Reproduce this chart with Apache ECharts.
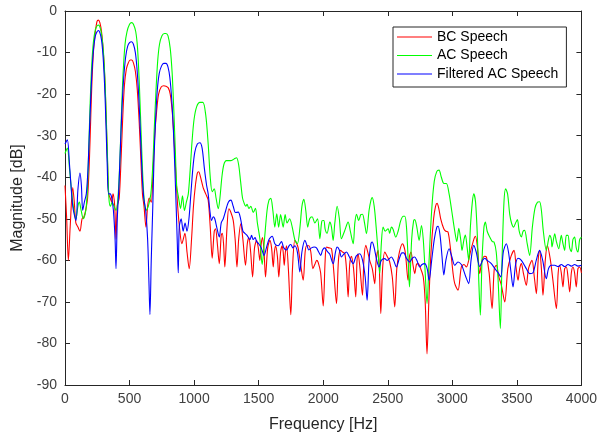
<!DOCTYPE html>
<html>
<head>
<meta charset="utf-8">
<script src="https://cdn.jsdelivr.net/npm/echarts@6/dist/echarts.min.js"></script>
<style>
	html, body {margin: 0;padding: 0;background: #fff}
	#main {width: 600px;height: 438px}
</style>
</head>
<body>
<div id="main"></div>
<script>
	// [frequency Hz, magnitude dB]
	var bcSpeech = [
		[0,-42],[13,-50],[26,-60],[40,-52],[60,-42.5],[72,-46],[84,-51],[100,-52],[116,-53],[132,-50],[147,-49.5],[160,-48],[175,-45],
		[190,-35],[200,-25],[210,-16],[222,-9],[235,-5],[248,-2.5],[258,-2.2],[270,-2.8],[283,-5],[295,-9],[308,-16],[318,-25],[328,-35],[338,-44],
		[350,-45],[362,-46],[372,-44],[385,-47],[395,-55],[405,-47],[420,-45],[435,-35],[448,-25],[460,-18],[475,-14],[490,-12.5],[505,-11.8],
		[518,-11.8],[530,-12.5],[545,-14.5],[560,-19],[575,-27],[588,-36],[600,-44],[612,-47],[627,-52],[640,-47],[652,-45],[668,-46],[680,-40],
		[695,-30],[710,-24],[725,-20],[745,-18.3],[765,-18],[782,-18.1],[800,-18.5],[815,-20],[830,-24],[845,-31],[860,-40],[875,-48],[890,-53],
		[905,-56],[929,-53.5],[945,-58],[962,-62],[980,-55],[995,-47],[1010,-42],[1025,-39],[1035,-38.7],[1050,-40],[1070,-42.5],[1090,-44],
		[1109,-45.5],[1125,-52],[1140,-59.5],[1156,-53],[1166,-52.4],[1180,-56],[1195,-60.8],[1210,-54],[1218,-53.5],[1228,-56],[1238,-61.6],
		[1255,-52],[1269,-47.6],[1285,-48.5],[1303,-50.4],[1318,-55],[1332,-61.6],[1345,-55],[1362,-51.2],[1378,-55],[1398,-61.2],[1412,-56],
		[1424,-54.5],[1438,-58],[1453,-64],[1468,-57],[1484,-55.2],[1497,-57],[1509,-60],[1520,-56],[1530,-54.5],[1542,-58],[1553,-64],[1570,-57],
		[1587,-55.2],[1600,-57],[1613,-61.6],[1622,-58],[1631,-56.5],[1645,-59],[1656,-64],[1670,-58],[1682,-56.5],[1690,-58],[1698,-61.2],
		[1707,-58],[1716,-56.5],[1730,-62],[1749,-73.1],[1762,-62],[1780,-55.2],[1795,-56],[1806,-57],[1825,-61],[1845,-64.8],[1860,-58],
		[1871,-56.5],[1889,-56.5],[1904,-58],[1920,-62],[1935,-61],[1950,-60],[1961,-60.5],[1980,-63],[2000,-71],[2015,-60],[2025,-56.8],
		[2045,-57],[2064,-57.2],[2080,-62],[2103,-70.4],[2118,-60],[2134,-57.6],[2150,-58],[2167,-58.4],[2180,-62],[2193,-68.8],[2205,-61],
		[2219,-59],[2235,-62],[2252,-68.8],[2262,-60],[2270,-58.4],[2285,-62],[2304,-68.4],[2315,-60],[2330,-56.4],[2345,-58],[2360,-60],
		[2380,-62],[2399,-65.6],[2410,-60],[2425,-57.6],[2435,-62],[2446,-72.8],[2460,-62],[2477,-58],[2495,-59],[2515,-60.4],[2535,-64],
		[2554,-71.2],[2570,-62],[2590,-58],[2614,-56],[2635,-58],[2657,-64.8],[2668,-59],[2680,-58],[2695,-61],[2709,-63.2],[2722,-61],
		[2735,-60.8],[2755,-62],[2775,-64],[2790,-70],[2804,-82.5],[2818,-70],[2835,-58],[2855,-50],[2870,-47],[2882,-46.3],[2895,-47.5],
		[2910,-50],[2934,-52.4],[2950,-53],[2967,-53.2],[2985,-57],[3006,-63.2],[3019,-65.6],[3044,-67.2],[3070,-61.6],[3090,-61],[3109,-61.6],
		[3140,-58],[3166,-55],[3179,-54.2],[3195,-57],[3212,-63.2],[3230,-60],[3251,-59],[3264,-59.2],[3285,-63],[3308,-71.6],[3325,-62],
		[3341,-61.2],[3360,-64],[3380,-66],[3406,-70],[3430,-62],[3455,-59],[3478,-57.6],[3495,-62],[3509,-64.8],[3522,-62],[3535,-60.8],
		[3550,-63],[3573,-66],[3590,-62],[3617,-60],[3635,-64],[3651,-68],[3665,-60],[3676,-57.6],[3690,-62],[3702,-68.4],[3720,-60],
		[3736,-56.4],[3760,-60],[3780,-65],[3806,-71.6],[3820,-63],[3831,-61.2],[3844,-63],[3857,-66.4],[3870,-62],[3883,-61.6],[3896,-64],
		[3909,-67.6],[3922,-63],[3934,-61.6],[3947,-63],[3960,-66.4],[3973,-62],[3986,-61.6],[4000,-63]
	];

	var acSpeech = [
		[0,-34.3],[18,-33],[35,-38],[60,-46],[85,-50],[100,-47],[111,-46],[125,-48],[142,-50],[155,-49],[165,-47],[175,-42],[185,-32],
		[195,-22],[207,-13],[220,-7.5],[235,-4.5],[250,-3.5],[260,-3.4],[272,-4],[285,-6],[298,-10],[310,-17],[320,-26],[330,-36],[340,-45],
		[352,-47],[365,-46],[380,-47],[395,-48],[410,-45],[425,-36],[438,-24],[450,-15],[465,-8],[480,-5],[500,-3.2],[516,-2.8],[530,-3.2],
		[548,-5],[562,-9],[575,-17],[588,-28],[600,-38],[612,-45],[627,-48],[645,-47],[665,-44],[680,-37],[692,-28],[705,-19],[718,-12],
		[732,-8],[750,-6],[770,-5.4],[782,-5.4],[798,-6],[815,-9],[830,-15],[843,-24],[855,-34],[865,-42],[880,-45],[895,-47.5],[910,-44.5],
		[925,-48],[940,-46],[955,-44],[970,-38],[985,-31],[1000,-26],[1020,-23],[1045,-22],[1068,-22],[1090,-25],[1109,-32],[1125,-40],
		[1140,-43.5],[1156,-42.8],[1170,-45],[1187,-47.6],[1200,-45],[1215,-40],[1230,-37],[1250,-36],[1264,-36],[1285,-36],[1300,-35.8],
		[1315,-35.5],[1329,-35.3],[1345,-37],[1360,-41],[1375,-45],[1388,-46.3],[1400,-47],[1410,-46.5],[1424,-47.5],[1440,-47],[1458,-48.5],
		[1475,-47.5],[1490,-51],[1510,-55],[1527,-61],[1545,-55],[1565,-48],[1580,-45.5],[1594,-45.1],[1610,-48],[1625,-52],[1640,-48.8],
		[1655,-52],[1670,-49],[1690,-52],[1705,-49],[1720,-51],[1740,-50],[1760,-52],[1780,-55],[1800,-56],[1820,-52],[1835,-47],[1850,-45.3],
		[1865,-48],[1880,-52],[1895,-50],[1914,-49.5],[1935,-51],[1956,-50],[1974,-54.8],[1990,-50.5],[2005,-50.4],[2015,-52.5],[2030,-53.5],
		[2051,-50.8],[2064,-52],[2077,-55.2],[2090,-51],[2108,-47],[2125,-50],[2141,-54.8],[2165,-53],[2193,-50.8],[2210,-53],[2232,-56],
		[2245,-51],[2258,-48.9],[2275,-50.4],[2291,-49],[2304,-48.9],[2320,-51],[2335,-53.6],[2355,-48],[2370,-45.5],[2379,-44.9],[2395,-47],
		[2410,-52],[2425,-58],[2438,-63.2],[2450,-56],[2464,-52],[2480,-53],[2503,-52.4],[2515,-53.5],[2528,-52],[2541,-52.5],[2562,-54.4],
		[2580,-53],[2600,-50.5],[2620,-49.4],[2632,-49.4],[2645,-52],[2658,-60],[2668,-66.4],[2685,-55],[2700,-50.5],[2709,-50.2],[2725,-52],
		[2743,-55.2],[2761,-51.6],[2775,-55],[2790,-63],[2804,-70.4],[2820,-60],[2840,-48],[2860,-41],[2880,-38.6],[2897,-38.3],[2915,-40],
		[2935,-41.5],[2954,-41.5],[2975,-44],[2995,-48],[3019,-53],[3035,-55.5],[3050,-52.3],[3065,-55],[3075,-57.6],[3090,-55],[3101,-53.9],
		[3115,-57],[3127,-60],[3140,-52],[3155,-46],[3166,-44],[3180,-46],[3195,-55],[3205,-65],[3217,-73.2],[3230,-60],[3245,-52],[3256,-50.8],
		[3270,-53],[3290,-54.4],[3310,-55.5],[3323,-55.6],[3340,-58],[3355,-65],[3372,-76.4],[3385,-60],[3400,-46],[3413,-42.8],[3428,-44],
		[3445,-49],[3460,-51.2],[3475,-52],[3490,-51],[3504,-50.2],[3518,-53],[3535,-54.4],[3548,-53],[3560,-52.8],[3580,-56],[3599,-58.8],
		[3620,-52],[3640,-47.5],[3660,-46],[3676,-45.9],[3690,-48],[3705,-53],[3728,-57.6],[3745,-55],[3754,-54],[3767,-55],[3772,-56.8],
		[3793,-53.6],[3806,-55.5],[3824,-57.2],[3844,-54],[3857,-56],[3870,-57.6],[3883,-54],[3896,-54],[3909,-57],[3922,-57.9],[3934,-55],
		[3947,-54.4],[3960,-57],[3973,-58],[3986,-55],[4000,-54.4]
	];

	var filteredAcSpeech = [
		[0,-32],[18,-31],[35,-37],[60,-47],[85,-50.4],[100,-43],[116,-39],[127,-42],[137,-48],[150,-46],[165,-44],[178,-38],[188,-30],
		[198,-22],[208,-15],[220,-9.5],[235,-6],[248,-5],[258,-4.7],[270,-5.2],[283,-7],[295,-11],[307,-18],[317,-27],[327,-37],[337,-44],
		[350,-44],[362,-45],[375,-48],[388,-55],[395,-62],[405,-50],[418,-42],[430,-32],[442,-23],[455,-16],[470,-11],[485,-8.5],[500,-7.6],
		[516,-7.4],[530,-8],[545,-10],[558,-14],[572,-21],[585,-30],[597,-39],[610,-45],[625,-48],[640,-55],[650,-65],[658,-73],[668,-60],
		[680,-47],[690,-35],[702,-26],[715,-19],[730,-15],[748,-13.2],[765,-12.6],[782,-12.6],[798,-13.5],[812,-16],[826,-21],[840,-29],
		[852,-39],[862,-48],[870,-56],[877,-63],[885,-52],[900,-50],[915,-53],[930,-51],[945,-53],[960,-50],[975,-44],[990,-38],[1005,-34],
		[1025,-32],[1045,-31.7],[1062,-33],[1080,-38],[1097,-42],[1109,-44],[1122,-48],[1135,-50.4],[1148,-49.5],[1160,-50],[1175,-52],
		[1195,-54.4],[1210,-51],[1226,-50],[1245,-48],[1265,-46],[1285,-45.5],[1303,-47],[1320,-48.5],[1342,-48.4],[1360,-50],[1378,-53],
		[1393,-53.5],[1410,-54],[1432,-55],[1445,-54],[1458,-55],[1472,-54.5],[1484,-55.5],[1500,-56],[1520,-57],[1542,-58.8],[1560,-57],
		[1580,-55],[1605,-54.2],[1625,-56],[1651,-56.5],[1665,-56],[1677,-55.5],[1695,-57],[1716,-57.5],[1735,-56.5],[1749,-56.2],[1765,-57],
		[1780,-56.5],[1800,-58],[1819,-62.8],[1835,-58],[1858,-55.2],[1875,-56.5],[1889,-57.5],[1909,-57],[1930,-56.8],[1948,-57],[1965,-58],
		[1981,-58.8],[1995,-57.5],[2012,-57],[2030,-57.8],[2050,-58.5],[2077,-60.8],[2095,-58],[2108,-56.8],[2125,-57.5],[2141,-59.2],
		[2160,-58.5],[2180,-58],[2200,-59],[2232,-60.8],[2255,-59],[2283,-58.4],[2305,-60],[2325,-64],[2340,-69.6],[2355,-60],[2370,-56],
		[2379,-55.6],[2395,-57],[2415,-60],[2433,-61.6],[2450,-60],[2477,-59.6],[2495,-60],[2528,-59.2],[2545,-60],[2567,-61.6],[2590,-59.5],
		[2610,-58.2],[2624,-58.2],[2645,-59.5],[2670,-60.4],[2690,-59.5],[2709,-59.2],[2725,-60],[2748,-61.6],[2765,-61],[2786,-60.8],
		[2805,-62],[2820,-64.8],[2840,-60],[2860,-55],[2880,-52],[2890,-51.8],[2905,-54],[2920,-59],[2934,-63.5],[2950,-60],[2975,-57.2],
		[2995,-59],[3019,-61.2],[3044,-60.4],[3070,-61],[3083,-62],[3105,-64],[3127,-65.6],[3145,-60],[3166,-56.4],[3185,-58],[3212,-61.5],
		[3235,-60],[3251,-59.5],[3270,-60],[3302,-60.8],[3330,-62],[3355,-63],[3375,-64],[3395,-58],[3418,-56],[3435,-58],[3455,-63],
		[3470,-66.4],[3490,-61],[3509,-59.5],[3535,-60],[3573,-62],[3599,-63.2],[3625,-63],[3650,-60],[3676,-57.6],[3700,-60],[3728,-64.4],
		[3745,-62],[3767,-61.2],[3793,-61.2],[3820,-61.5],[3844,-61],[3870,-61.5],[3896,-61],[3922,-61.4],[3947,-61],[3973,-61.4],[4000,-61.2]
	];

	var seriesNames = ['BC Speech', 'AC Speech', 'Filtered AC Speech'];
	var seriesColors = ['#ff0000', '#00ff00', '#0000ff'];

	var fontFamily = '"Liberation Sans", Arial, sans-serif';
	var axisColor = '#262626';

	function boxAxis(extra) {
		var axis = {
			type: 'value',
			axisLine: {show: true, onZero: false, lineStyle: {color: axisColor, width: 1}},
			axisTick: {show: true, inside: true, length: 5, lineStyle: {color: axisColor}},
			splitLine: {show: false},
			axisLabel: {show: false}
		};
		return Object.assign(axis, extra);
	}

	var myChart = echarts.init(document.getElementById('main'), null, {renderer: 'canvas'});
	var option = {
		animation: false,
		backgroundColor: '#fff',
		textStyle: {fontFamily: fontFamily},
		grid: {left: 65, right: 18, top: 11, bottom: 53},
		legend: {
			data: seriesNames,
			orient: 'vertical',
			left: 393,
			top: 27,
			padding: [2, 8, 5, 4],
			itemGap: 2.5,
			itemWidth: 35,
			itemHeight: 1.2,
			icon: 'rect',
			borderColor: axisColor,
			borderWidth: 1,
			borderRadius: 0,
			backgroundColor: '#fff',
			textStyle: {fontSize: 14, lineHeight: 16, color: '#000', fontFamily: fontFamily}
		},
		xAxis: [
			boxAxis({
				min: 0, max: 4000, interval: 500,
				name: 'Frequency [Hz]',
				nameLocation: 'middle',
				nameGap: 32,
				nameTextStyle: {fontSize: 16, color: '#262626', fontFamily: fontFamily},
				axisLabel: {
					show: true, fontSize: 14, color: '#404040', margin: 7, fontFamily: fontFamily,
					formatter: function (v) { return String(v); }
				}
			}),
			boxAxis({min: 0, max: 4000, interval: 500, position: 'top'})
		],
		yAxis: [
			boxAxis({
				min: -90, max: 0, interval: 10,
				name: 'Magnitude [dB]',
				nameLocation: 'middle',
				nameGap: 38,
				nameTextStyle: {fontSize: 16, color: '#262626', fontFamily: fontFamily},
				axisLabel: {
					show: true, fontSize: 14, color: '#404040', margin: 8, fontFamily: fontFamily,
					formatter: function (v) { return String(v); }
				}
			}),
			boxAxis({min: -90, max: 0, interval: 10, position: 'right'})
		],
		series: [
			{name: seriesNames[0], data: bcSpeech},
			{name: seriesNames[1], data: acSpeech},
			{name: seriesNames[2], data: filteredAcSpeech}
		].map(function (s, i) {
			// red first, blue drawn on top
			return {
				name: s.name,
				type: 'line',
				data: s.data,
				symbol: 'none',
				smooth: 0.3,
				color: seriesColors[i],
				lineStyle: {width: 1.1, color: seriesColors[i]},
				z: 2 + i
			};
		})
	};
	myChart.setOption(option);
</script>
</body>
</html>
